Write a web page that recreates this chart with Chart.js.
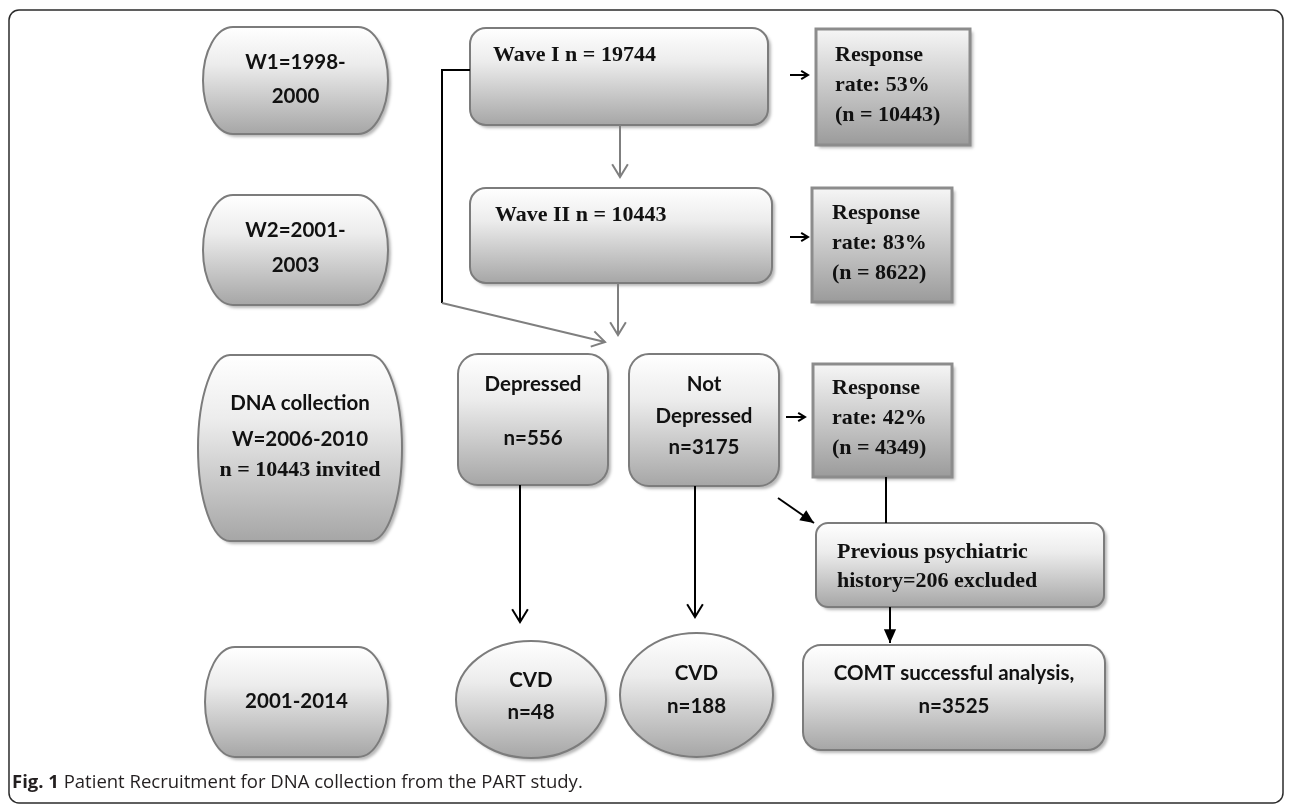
<!DOCTYPE html>
<html>
<head>
<meta charset="utf-8">
<script src="https://cdn.jsdelivr.net/npm/chart.js@4"></script>
<style>
  html, body { margin: 0; padding: 0; background: #fff; }
  #wrap { width: 1290px; height: 808px; }
</style>
</head>
<body>
<div id="wrap"><canvas id="flow" width="1290" height="808"></canvas></div>
<script>
// values shown in the figure
const periodLabels = [['W1=1998-', '2000'], ['W2=2001-', '2003'], ['DNA collection', 'W=2006-2010'], ['2001-2014']];
const waveNames = ['Wave I', 'Wave II'];
const waveCounts = [19744, 10443];
const responseRates = [53, 83, 42];
const responseCounts = [10443, 8622, 4349];
const invitedCount = 10443;
const groupNames = [['Depressed'], ['Not', 'Depressed']];
const groupCounts = [556, 3175];
const cvdCounts = [48, 188];
const excludedCount = 206;
const analysedCount = 3525;
const captionParts = ['Fig. 1', ' Patient Recruitment for DNA collection from the PART study.'];

const SANS = 'bold 20.5px Lato';
const SERIF = 'bold 22px "Liberation Serif"';
const CAP = '18.5px "Open Sans"';
const CAP_B = 'bold 18.5px "Open Sans"';

// layout of the boxes (in axis units, 1 unit = 1 px of the figure)
const respLines = (i, top) => [
  ['Response', top, 'r'],
  ['rate: ' + responseRates[i] + '%', top + 30, 'r'],
  ['(n = ' + responseCounts[i] + ')', top + 60, 'r']
];

const nodes = [
  { shape: 'term', x0: 203, x1: 388, y0: 27, y1: 134, b: 30, lines: [[periodLabels[0][0], 62, 's'], [periodLabels[0][1], 96, 's']] },
  { shape: 'term', x0: 203, x1: 388, y0: 195, y1: 305, b: 30, lines: [[periodLabels[1][0], 230, 's'], [periodLabels[1][1], 265, 's']] },
  { shape: 'term', x0: 198, x1: 402, y0: 355, y1: 541, b: 32, lines: [[periodLabels[2][0], 403, 's'], [periodLabels[2][1], 439, 's'], ['n = ' + invitedCount + ' invited', 470, 'r']] },
  { shape: 'term', x0: 205, x1: 388, y0: 647, y1: 757, b: 30, lines: [[periodLabels[3][0], 701, 's']] },

  { shape: 'round', r: 16, x0: 470, x1: 768, y0: 28, y1: 125, tx: 493, lines: [[waveNames[0] + ' n = ' + waveCounts[0], 55, 'r']] },
  { shape: 'round', r: 16, x0: 470, x1: 772, y0: 188, y1: 283, tx: 495, lines: [[waveNames[1] + ' n = ' + waveCounts[1], 215, 'r']] },

  { shape: 'rect', x0: 816, x1: 970, y0: 29, y1: 145, tx: 835, lines: respLines(0, 55) },
  { shape: 'rect', x0: 812, x1: 952, y0: 188, y1: 302, tx: 832, lines: respLines(1, 213) },
  { shape: 'rect', x0: 813, x1: 952, y0: 364, y1: 477, tx: 832, lines: respLines(2, 388) },

  { shape: 'round', r: 20, x0: 458, x1: 608, y0: 354, y1: 485, lines: [[groupNames[0][0], 384, 's'], ['n=' + groupCounts[0], 438, 's']] },
  { shape: 'round', r: 20, x0: 629, x1: 779, y0: 354, y1: 486, lines: [[groupNames[1][0], 384, 's'], [groupNames[1][1], 416, 's'], ['n=' + groupCounts[1], 447, 's']] },

  { shape: 'round', r: 12, x0: 816, x1: 1104, y0: 523, y1: 607, tx: 837, lines: [['Previous psychiatric', 552, 'r'], ['history=' + excludedCount + ' excluded', 581, 'r']] },
  { shape: 'round', r: 18, x0: 803, x1: 1105, y0: 645, y1: 750, lines: [['COMT successful analysis,', 673, 's'], ['n=' + analysedCount, 706, 's']] },

  { shape: 'oval', x0: 456, x1: 606, y0: 641, y1: 758, lines: [['CVD', 680, 's'], ['n=' + cvdCounts[0], 712, 's']] },
  { shape: 'oval', x0: 620, x1: 773, y0: 633, y1: 757, lines: [['CVD', 673, 's'], ['n=' + cvdCounts[1], 706, 's']] }
];

// connectors: points, colour, head type
const links = [
  { pts: [[620, 125], [620, 177]], c: '#7f7f7f', head: 'open' },
  { pts: [[618, 283], [618, 335]], c: '#7f7f7f', head: 'open' },
  { pts: [[470, 70], [442, 70], [442, 303]], c: '#000', head: null },
  { pts: [[442, 303], [605, 342]], c: '#7f7f7f', head: 'open' },
  { pts: [[790, 75], [808, 75]], c: '#000', head: 'open', s: 8 },
  { pts: [[790, 237], [808, 237]], c: '#000', head: 'open', s: 8 },
  { pts: [[786, 417], [805, 417]], c: '#000', head: 'open', s: 8 },
  { pts: [[520, 485], [520, 622]], c: '#000', head: 'open' },
  { pts: [[695, 486], [695, 617]], c: '#000', head: 'open' },
  { pts: [[886, 477], [886, 523]], c: '#000', head: null },
  { pts: [[778, 498], [814, 523]], c: '#000', head: 'fill' },
  { pts: [[890, 607], [890, 643]], c: '#000', head: 'fill' }
];

function pathFor(ctx, n, X, Y) {
  const x0 = X(n.x0), x1 = X(n.x1), y0 = Y(n.y0), y1 = Y(n.y1);
  const cy = (y0 + y1) / 2, h = y1 - y0;
  ctx.beginPath();
  if (n.shape === 'term') {
    ctx.moveTo(x0 + n.b, y0);
    ctx.lineTo(x1 - n.b, y0);
    ctx.ellipse(x1 - n.b, cy, n.b, h / 2, 0, -Math.PI / 2, Math.PI / 2);
    ctx.lineTo(x0 + n.b, y1);
    ctx.ellipse(x0 + n.b, cy, n.b, h / 2, 0, Math.PI / 2, Math.PI * 1.5);
  } else if (n.shape === 'round') {
    ctx.roundRect(x0, y0, x1 - x0, h, n.r);
  } else if (n.shape === 'oval') {
    ctx.ellipse((x0 + x1) / 2, cy, (x1 - x0) / 2, h / 2, 0, 0, Math.PI * 2);
  } else {
    ctx.rect(x0, y0, x1 - x0, h);
  }
  ctx.closePath();
}

function drawLink(ctx, l, X, Y) {
  const p = l.pts.map(q => [X(q[0]), Y(q[1])]);
  ctx.strokeStyle = l.c;
  ctx.fillStyle = l.c;
  ctx.lineWidth = 2;
  ctx.beginPath();
  ctx.moveTo(p[0][0], p[0][1]);
  for (let i = 1; i < p.length; i++) ctx.lineTo(p[i][0], p[i][1]);
  ctx.stroke();
  if (!l.head) return;
  const a = p[p.length - 2], b = p[p.length - 1];
  const ang = Math.atan2(b[1] - a[1], b[0] - a[0]);
  const len = l.s || 15, spread = l.head === 'fill' ? 0.42 : 0.55;
  const lx = b[0] - len * Math.cos(ang - spread), ly = b[1] - len * Math.sin(ang - spread);
  const rx = b[0] - len * Math.cos(ang + spread), ry = b[1] - len * Math.sin(ang + spread);
  ctx.beginPath();
  ctx.moveTo(lx, ly);
  ctx.lineTo(b[0], b[1]);
  ctx.lineTo(rx, ry);
  if (l.head === 'fill') { ctx.closePath(); ctx.fill(); } else { ctx.stroke(); }
}

const flowPlugin = {
  id: 'flow',
  afterDatasetsDraw(chart) {
    const ctx = chart.ctx;
    const X = v => chart.scales.x.getPixelForValue(v);
    const Y = v => chart.scales.y.getPixelForValue(v);
    const meta = chart.getDatasetMeta(0);
    ctx.save();

    // outer frame
    ctx.strokeStyle = '#2b2b2b';
    ctx.lineWidth = 1.5;
    ctx.beginPath();
    ctx.roundRect(X(9), Y(10), X(1283) - X(9), Y(803) - Y(10), 10);
    ctx.stroke();

    // boxes
    nodes.forEach((n, i) => {
      const y0 = Y(n.y0), y1 = Y(n.y1);
      const g = ctx.createLinearGradient(0, y0, 0, y1);
      if (n.shape === 'rect') {
        g.addColorStop(0, '#f6f6f6');
        g.addColorStop(1, '#9b9b9b');
      } else {
        g.addColorStop(0, '#ffffff');
        g.addColorStop(0.35, '#ececec');
        g.addColorStop(1, '#a6a6a6');
      }
      pathFor(ctx, n, X, Y);
      ctx.shadowColor = 'rgba(0,0,0,0.28)';
      ctx.shadowOffsetX = 3;
      ctx.shadowOffsetY = 3;
      ctx.shadowBlur = 3;
      ctx.fillStyle = g;
      ctx.fill();
      ctx.shadowColor = 'transparent';
      ctx.strokeStyle = n.shape === 'rect' ? '#8c8c8c' : '#7c7c7c';
      ctx.lineWidth = n.shape === 'rect' ? 3 : 2;
      ctx.stroke();

      // labels
      const cx = meta.data[i].x;
      ctx.fillStyle = '#111';
      ctx.textBaseline = 'middle';
      n.lines.forEach(([t, ty, f]) => {
        ctx.font = f === 's' ? SANS : SERIF;
        if (n.tx !== undefined) {
          ctx.textAlign = 'left';
          ctx.fillText(t, X(n.tx), Y(ty));
        } else {
          ctx.textAlign = 'center';
          ctx.fillText(t, cx, Y(ty));
        }
      });
    });

    // connectors
    links.forEach(l => drawLink(ctx, l, X, Y));

    // caption
    ctx.textAlign = 'left';
    ctx.textBaseline = 'middle';
    ctx.fillStyle = '#231f20';
    ctx.font = CAP_B;
    ctx.fillText(captionParts[0], X(12), Y(783));
    const w = ctx.measureText(captionParts[0]).width;
    ctx.font = CAP;
    ctx.fillText(captionParts[1], X(12) + w, Y(783));
    ctx.restore();
  }
};

function build() {
  new Chart(document.getElementById('flow'), {
    type: 'scatter',
    data: {
      datasets: [{
        data: nodes.map(n => ({ x: (n.x0 + n.x1) / 2, y: (n.y0 + n.y1) / 2 })),
        pointRadius: 0
      }]
    },
    options: {
      responsive: false,
      animation: false,
      layout: { padding: 0 },
      scales: {
        x: { type: 'linear', min: 0, max: 1290, display: false },
        y: { type: 'linear', min: 0, max: 808, reverse: true, display: false }
      },
      plugins: {
        legend: { display: false },
        tooltip: { enabled: false }
      }
    },
    plugins: [flowPlugin]
  });
}

Promise.all([
  document.fonts.load(SANS),
  document.fonts.load(SERIF),
  document.fonts.load(CAP),
  document.fonts.load(CAP_B)
]).then(build, build);
</script>
</body>
</html>
